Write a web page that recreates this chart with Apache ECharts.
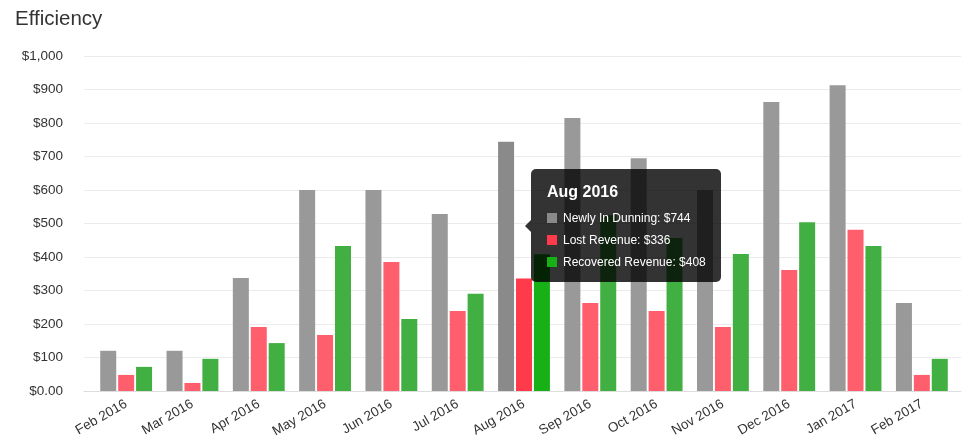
<!DOCTYPE html>
<html>
<head>
<meta charset="utf-8">
<script src="https://cdn.jsdelivr.net/npm/echarts@6/dist/echarts.min.js"></script>
<style>
	html, body { margin: 0; padding: 0; background: #fff; }
	#main { width: 968px; height: 448px; }
</style>
</head>
<body>
<div id="main"></div>
<script>
var months = ["Feb 2016", "Mar 2016", "Apr 2016", "May 2016", "Jun 2016", "Jul 2016", "Aug 2016",
	"Sep 2016", "Oct 2016", "Nov 2016", "Dec 2016", "Jan 2017", "Feb 2017"];
var newlyInDunning = [120, 120, 337, 600, 600, 528, 744, 815, 695, 600, 863, 913, 263];
var lostRevenue = [48, 24, 191, 167, 385, 239, 336, 263, 239, 191, 361, 481, 48];
var recoveredRevenue = [72, 96, 143, 433, 215, 290, 408, 525, 457, 409, 504, 433, 96];
var seriesNames = ["Newly In Dunning", "Lost Revenue", "Recovered Revenue"];
var colors = ["#999999", "#FF5F6D", "#41AF41"];
var hoverColors = ["#8A8A8A", "#FF3A4A", "#17B017"];
var activeIndex = 6;

function money(v) {
	if (v === 0) return "$0.00";
	return "$" + v.toLocaleString("en-US");
}

var chart = echarts.init(document.getElementById("main"), null, { renderer: "canvas" });

var font = "'Liberation Sans', Arial, Helvetica, sans-serif";

function barSeries(i, values) {
	return {
		name: seriesNames[i],
		type: "bar",
		xAxisIndex: 1,
		yAxisIndex: 1,
		data: values,
		barWidth: 16,
		barGap: "12%",
		itemStyle: { color: colors[i] },
		emphasis: { focus: "none", itemStyle: { color: hoverColors[i] } }
	};
}

var option = {
	animation: false,
	textStyle: { fontFamily: font },
	title: {
		text: "Efficiency",
		left: 10,
		top: 4,
		textStyle: { fontSize: 20.5, fontWeight: 500, color: "#333", fontFamily: font }
	},
	grid: [
		// gridlines and y labels
		{ left: 84, right: 7, top: 56, bottom: 57 },
		// bars
		{ left: 93, right: 13, top: 56, bottom: 57 }
	],
	xAxis: [
		{
			gridIndex: 0,
			type: "value",
			min: 0,
			max: 1,
			axisLine: { show: true, lineStyle: { color: "#dddddd" } },
			axisTick: { show: false },
			axisLabel: { show: false },
			splitLine: { show: false }
		},
		{
			gridIndex: 1,
			type: "category",
			data: months,
			axisLine: { show: false },
			axisTick: { show: false },
			axisLabel: {
				rotate: 30,
				color: "#333",
				fontSize: 13.5,
				margin: 12,
				interval: 0,
				fontFamily: font
			}
		}
	],
	yAxis: [
		{
			gridIndex: 0,
			type: "value",
			min: 0,
			max: 1000,
			interval: 100,
			axisLine: { show: false },
			axisTick: { show: false },
			axisLabel: {
				color: "#333",
				fontSize: 13.5,
				margin: 21,
				fontFamily: font,
				formatter: money
			},
			splitLine: { lineStyle: { color: "#ebebeb" } }
		},
		{
			gridIndex: 1,
			type: "value",
			min: 0,
			max: 1000,
			interval: 100,
			show: false,
			splitLine: { show: false }
		}
	],
	tooltip: {
		trigger: "axis",
		alwaysShowContent: true,
		transitionDuration: 0,
		axisPointer: { type: "none" },
		backgroundColor: "rgba(0,0,0,0.8)",
		borderWidth: 0,
		borderRadius: 5,
		padding: [13, 15, 9, 16],
		extraCssText: "box-shadow:none;overflow:visible;",
		position: function () { return [531, 169]; },
		formatter: function (params) {
			var html = '<div style="position:absolute;left:-6px;top:50%;margin-top:-6px;width:0;height:0;' +
				'border-top:6px solid transparent;border-bottom:6px solid transparent;border-right:6px solid rgba(0,0,0,0.8);"></div>';
			html += '<div style="font:bold 16px ' + font + ';color:#fff;line-height:20px;margin-bottom:5px;">' +
				params[0].axisValue + '</div>';
			params.forEach(function (p) {
				html += '<div style="font:12px ' + font + ';color:#fff;line-height:22px;white-space:nowrap;">' +
					'<span style="display:inline-block;width:10px;height:10px;margin-right:6px;vertical-align:-1px;background:' +
					hoverColors[p.seriesIndex] + ';"></span>' +
					p.seriesName + ': ' + money(p.value) + '</div>';
			});
			return html;
		}
	},
	series: [
		barSeries(0, newlyInDunning),
		barSeries(1, lostRevenue),
		barSeries(2, recoveredRevenue)
	]
};

chart.setOption(option);
chart.dispatchAction({ type: "highlight", seriesIndex: [0, 1, 2], dataIndex: activeIndex });
chart.dispatchAction({ type: "showTip", seriesIndex: 0, dataIndex: activeIndex });
window.addEventListener("resize", chart.resize);
</script>
</body>
</html>
